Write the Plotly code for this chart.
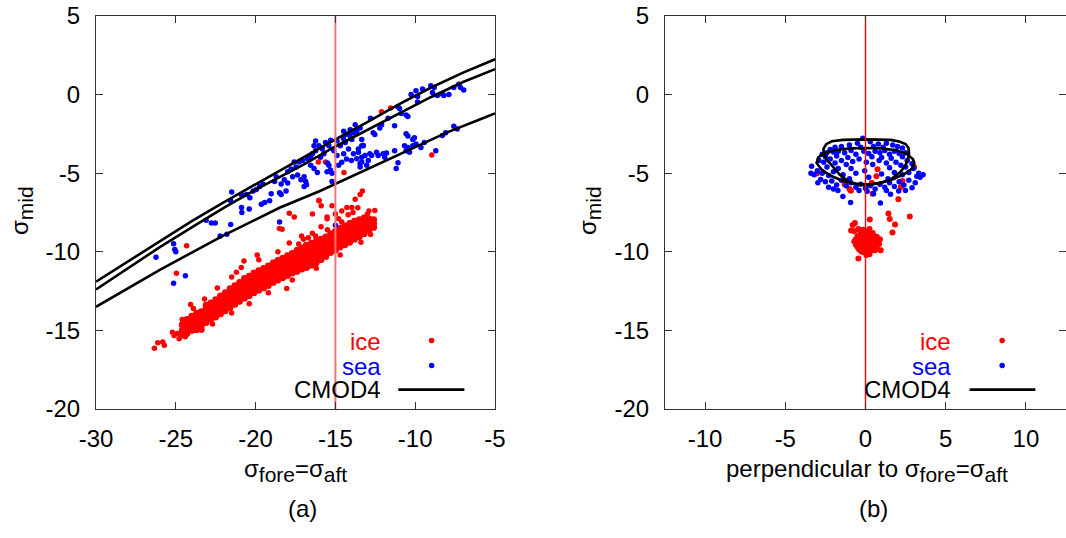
import plotly.graph_objects as go

# ---------------- data ----------------
# Panel (a): CMOD4 model curves, x = sigma_fore = sigma_aft, y = sigma_mid
cmod_x = [-30, -28, -26, -24, -22, -20, -18.7, -17, -15, -13, -11, -9, -7, -5]
cmod_upper = [-11.9, -10.6, -9.3, -8.05, -6.85, -5.7, -4.95, -4.0, -2.85, -1.75, -0.6, 0.45, 1.4, 2.25]
cmod_middle = [-12.4, -11.05, -9.7, -8.45, -7.2, -6.05, -5.35, -4.45, -3.3, -2.25, -1.2, -0.15, 0.8, 1.62]
cmod_lower_x = [-30, -28, -26, -24, -22, -20, -18.5, -16, -14, -12, -10, -8, -6, -5]
cmod_lower = [-13.5, -12.3, -11.15, -10.05, -8.95, -7.95, -7.2, -6.15, -5.2, -4.25, -3.3, -2.4, -1.6, -1.2]

# Panel (a): ice – dense band, listed column by column
ice_band_x = [-24.6, -24.3, -24.0, -23.7, -23.4, -23.1, -22.8, -22.5, -22.2, -21.9,
              -21.6, -21.3, -21.0, -20.7, -20.4, -20.1, -19.8, -19.5, -19.2, -18.9,
              -18.6, -18.3, -18.0, -17.7, -17.4, -17.1, -16.8, -16.5, -16.2, -15.9,
              -15.6, -15.3, -15.0, -14.7, -14.4, -14.1, -13.8, -13.5, -13.2, -12.9, -12.6]
ice_band_y = [
    [-15.3, -15.0, -14.65],
    [-15.2, -14.9, -14.6, -14.3],
    [-15.0, -14.7, -14.4, -14.1],
    [-14.85, -14.55, -14.25, -13.9],
    [-14.95, -14.7, -14.4, -14.1, -13.8],
    [-14.5, -14.2, -13.9, -13.6, -13.4],
    [-14.3, -14.0, -13.75, -13.45, -13.25],
    [-14.15, -13.85, -13.55, -13.3, -13.05],
    [-13.95, -13.65, -13.35, -13.05, -12.8],
    [-13.75, -13.45, -13.15, -12.85, -12.6],
    [-13.55, -13.25, -12.95, -12.65, -12.35],
    [-13.35, -13.05, -12.75, -12.45, -12.15],
    [-13.15, -12.85, -12.55, -12.25, -11.95],
    [-12.95, -12.6, -12.3, -12.0, -11.7],
    [-12.8, -12.45, -12.15, -11.85, -11.55],
    [-12.6, -12.25, -11.95, -11.65, -11.35],
    [-12.45, -12.1, -11.8, -11.5, -11.2],
    [-12.3, -11.95, -11.65, -11.35, -11.05],
    [-12.15, -11.8, -11.5, -11.2, -10.9],
    [-11.95, -11.6, -11.3, -11.0, -10.7],
    [-11.8, -11.45, -11.15, -10.85, -10.55],
    [-11.65, -11.3, -11.0, -10.7, -10.4],
    [-11.5, -11.15, -10.85, -10.55, -10.25],
    [-11.35, -11.0, -10.7, -10.4, -10.1],
    [-11.25, -10.9, -10.55, -10.2, -9.9],
    [-11.1, -10.75, -10.4, -10.05, -9.75],
    [-11.0, -10.65, -10.3, -9.95, -9.6],
    [-10.85, -10.5, -10.15, -9.8, -9.45],
    [-10.7, -10.35, -10.0, -9.65, -9.3],
    [-10.5, -10.2, -9.85, -9.5, -9.2],
    [-10.3, -9.95, -9.65, -9.35, -9.05],
    [-10.05, -9.75, -9.45, -9.15, -8.85],
    [-9.9, -9.6, -9.3, -9.0, -8.7],
    [-9.7, -9.4, -9.1, -8.8, -8.5],
    [-9.55, -9.25, -8.95, -8.65, -8.35],
    [-9.4, -9.1, -8.8, -8.5, -8.2],
    [-9.2, -8.9, -8.6, -8.3, -8.05],
    [-9.05, -8.75, -8.5, -8.2, -7.95],
    [-8.85, -8.6, -8.35, -8.1, -7.85],
    [-8.65, -8.4, -8.15, -7.9],
    [-8.45, -8.2, -7.95],
]
# Panel (a): ice – scattered points
ice_out_x = [-26.34, -26.13, -25.82, -25.72, -25.21, -25.1, -24.79, -24.9,
             -24.96, -24.32, -24.07, -20.73, -18.05, -18.51, -18.34, -17.89, -17.58,
             -16.03, -15.89, -16.44, -15.52, -15.21, -16.44, -16.24, -16.86, -17.89,
             -17.12, -13.31, -13.45, -13.76, -13.97, -14.28, -12.53, -12.11, -11.54,
             -13.25, -14.46, -15.62, -16.07, -8.96, -16.03, -15.52,
             -14.8, -14.2, -13.9, -13.6, -14.6, -15.9, -15.5, -16.7, -17.3, -19.8,
             -21.2, -22.4, -23.2, -23.9, -24.6, -22.7, -21.5, -20.4, -19.2, -17.7,
             -16.2, -14.7, -13.4, -12.8, -19.9, -20.9, -23.7, -24.4, -13.0, -12.9,
             -14.6, -15.0, -17.0, -18.6, -21.5]
ice_out_y = [-16.14, -15.79, -15.73, -15.94, -15.11, -15.32, -15.53, -15.2,
             -11.36, -9.61, -13.36, -10.58, -12.33, -8.52, -8.56, -7.55, -7.79,
             -6.72, -7.07, -7.59, -7.9, -7.07, -8.82, -8.99, -9.55, -9.44,
             -8.99, -6.14, -6.35, -6.66, -7.18, -7.18, -7.38, -1.09, -0.85,
             -3.22, -4.95, -4.29, -4.29, -3.84, -6.76, -7.79,
             -7.9, -7.65, -7.5, -7.2, -8.1, -8.4, -8.6, -9.1, -9.5, -10.5,
             -11.3, -12.3, -13.0, -13.6, -14.3, -14.6, -13.9, -13.3, -12.6, -11.8,
             -11.05, -10.2, -9.4, -8.9, -10.2, -11.0, -15.0, -15.4, -7.6, -7.4,
             -7.4, -7.6, -9.2, -10.0, -11.6]

# Panel (a): sea points
sea_a_x = [-26.24, -25.14, -25.06, -25.0, -25.14, -24.4, -23.1, -22.77, -22.53, -22.22,
           -21.8, -21.56, -21.5, -21.56, -20.88, -20.57, -20.36, -20.88, -20.86, -20.4,
           -20.15, -19.95, -19.74, -19.54, -19.64, -19.43, -19.12, -19.02, -18.71, -18.81,
           -18.5, -18.4, -18.09, -18.4, -18.2, -17.99, -17.99, -17.78, -17.58, -17.47,
           -17.68, -17.37, -17.16, -16.96, -16.86, -16.96, -16.81, -17.27, -17.06, -16.75,
           -16.55, -16.55, -16.34, -16.13, -16.03, -15.82, -15.62, -15.41, -15.72, -15.93,
           -16.24, -16.44, -15.5, -15.41, -15.31, -15.52, -15.21, -15.21, -15.0, -18.5,
           -15.1, -14.9, -14.69, -14.48, -14.38, -14.18, -13.97, -13.87, -13.66, -13.56,
           -13.35, -13.45, -13.76, -13.45, -13.66, -13.87, -13.35, -13.25, -13.56, -13.35,
           -12.63, -12.53, -12.22, -12.11, -12.84, -12.73, -12.42, -12.32, -12.01, -11.8,
           -11.91, -13.14, -12.94, -13.35, -13.45, -13.04, -11.29, -11.08, -11.08, -10.98,
           -10.88, -10.57, -10.46, -11.29, -10.57, -10.05, -10.15, -10.67, -10.46, -10.15,
           -9.95, -9.64, -9.43, -10.57, -10.36, -8.71, -10.26, -9.95, -9.85, -9.54,
           -9.02, -8.81, -8.92, -8.61, -8.3, -8.2, -7.89, -7.58, -7.27, -7.16,
           -6.96, -8.3, -8.09, -7.58, -7.37, -11.19, -10.46, -9.85, -14.0, -14.3,
           -14.6, -14.8, -14.1, -14.5, -14.9, -15.3, -12.8, -11.7, -14.48, -14.38,
           -14.07, -16.34, -16.24]
sea_a_y = [-10.35, -9.48, -9.86, -10.0, -12.0, -11.53, -8.0, -8.16, -8.16, -8.99,
           -8.89, -8.27, -6.19, -6.76, -6.39, -6.35, -6.56, -7.18, -7.5, -7.28,
           -6.14, -6.04, -5.84, -5.69, -6.97, -6.87, -6.76, -6.31, -5.22, -5.53,
           -6.25, -6.35, -6.14, -5.69, -5.42, -5.63, -4.91, -4.74, -4.29, -4.6,
           -5.22, -5.11, -5.42, -5.22, -5.53, -5.84, -5.73, -4.29, -4.19, -4.08,
           -3.98, -4.49, -4.7, -4.95, -3.26, -3.46, -3.05, -3.26, -3.77, -3.98,
           -3.57, -3.77, -4.35, -4.49, -4.8, -4.91, -5.01, -5.53, -8.31, -8.1,
           -3.57, -3.88, -3.26, -3.77, -3.05, -3.46, -2.85, -3.77, -4.08, -3.46,
           -3.26, -4.39, -1.92, -2.12, -2.33, -2.43, -2.85, -3.26, -3.67, -3.98,
           -2.43, -2.54, -2.12, -1.92, -3.77, -3.88, -3.67, -3.88, -3.77, -3.71,
           -3.98, -3.88, -4.19, -4.29, -4.6, -4.49, -3.57, -4.33, -0.78, -0.89,
           -1.2, -1.3, -1.4, -1.98, -2.49, -2.74, -2.85, -3.26, -3.36, -3.26,
           -3.15, -3.36, -3.05, -3.57, -3.67, -3.57, 0.0, 0.25, -0.12, 0.35,
           0.56, 0.45, 0.14, -0.06, 0.04, -0.06, 0.0, 0.45, 0.66, 0.45,
           0.29, -2.6, -2.43, -2.02, -2.19, -4.7, -2.64, -0.47, -4.2, -4.1,
           -4.3, -4.5, -2.6, -2.8, -2.95, -2.9, -1.5, -1.5, -2.33, -2.54,
           -2.23, -3.26, -2.95]

# Panel (b): CMOD4 loops in the perpendicular projection
loop1_x = [0, 0.8, 1.56, 2.1, 2.5, 2.68, 2.72, 2.65, 2.5, 2.2, 1.56, 0.8, 0, -0.93,
           -1.6, -2.1, -2.45, -2.6, -2.62, -2.45, -2.1, -1.4, -0.7, 0]
loop1_y = [-2.85, -2.85, -2.88, -2.98, -3.14, -3.4, -3.76, -4.1, -4.48, -4.9, -5.4, -5.65,
           -5.76, -5.62, -5.1, -4.5, -4.1, -3.75, -3.45, -3.15, -2.97, -2.88, -2.85, -2.85]
loop2_x = [0, 1.0, 2.0, 2.6, 2.95, 3.05, 2.9, 2.5, 1.8, 1.0, 0.2, -0.6, -1.4, -2.2,
           -2.75, -3.05, -2.95, -2.6, -2.0, -1.0, 0]
loop2_y = [-3.4, -3.42, -3.55, -3.8, -4.1, -4.35, -4.7, -5.0, -5.35, -5.6, -5.72, -5.68,
           -5.5, -5.15, -4.75, -4.35, -4.0, -3.75, -3.55, -3.42, -3.4]

# Panel (b): ice points
ice_b_x = [0, -0.2, 0.2, -0.4, 0.4, -0.1, 0.1, -0.3, 0.3, -0.5, 0.5, -0.2, 0.15, -0.05,
           0.35, -0.35, 0.6, -0.6, 0.0, -0.15, 0.25, -0.45, -0.7, -0.9, 0.7, 0.55, -0.25,
           0.1, -0.1, 0.3, -0.3, 0.45, -0.55, 0.2,
           0.8, 0.85, 0.7, 0.6, 0.5, 0.65, 0.4, -0.4, -0.5, -0.6, 0.9, -0.7, 0.05, 0.25,
           -0.15, 0.0, 0.2, -0.3,
           -0.44, 0.95, 0.27, -0.66, -0.8, 1.43, 1.51, 1.84, 1.68, 2.76, 2.05, 2.2, 0.75,
           0.68, -0.91, -3.03, 0.39, 0.44, 3.03, -1.3, 2.3, -1.0]
ice_b_y = [-9.3, -9.1, -9.2, -9.4, -9.5, -9.6, -8.95, -8.8, -8.85, -9.0, -9.1, -9.8, -9.85,
           -10.05, -9.7, -9.65, -9.3, -9.2, -8.7, -8.6, -8.55, -8.55, -8.7, -8.65, -9.05,
           -9.55, -10.0, -9.45, -9.2, -9.3, -9.3, -8.8, -9.45, -10.0,
           -9.3, -9.5, -9.7, -9.9, -9.75, -9.45, -9.9, -9.85, -9.7, -9.55, -9.2, -9.35,
           -10.2, -10.15, -9.4, -9.0, -9.65, -9.5,
           -10.42, -9.9, -7.94, -8.16, -8.3, -7.56, -7.92, -8.26, -8.77, -7.75, -6.65, -5.87,
           -4.75, -5.19, -6.12, -5.02, -5.61, -6.3, -4.6, -5.7, -5.5, -6.0]

# Panel (b): sea points
sea_b_x = [-0.17, 0.3, -0.5, 0.8, 1.3, 1.7, 2.0, -1.0, -1.5, -1.9, 1.1, 0.5, -0.3, -2.2, 2.3,
           -2.7, -2.4, -2.0, -1.7, -1.3, -0.9, -0.6, -0.1, 0.2, 0.6, 0.9, 1.2, 1.5, 1.8, 2.1,
           2.5, -2.5, -1.8, -1.1, 0.4, 1.0, 1.6, 2.3,
           -2.9, -2.6, -2.2, -1.9, -1.5, -1.2, -0.8, -0.4, 0.05, 0.45, 0.85, 1.3, 1.9, 2.2,
           2.6, 2.9, -2.4, -1.7, -0.9, 1.5, 2.5, -3.36, 3.0,
           -3.4, -3.2, -3.0, -2.7, -2.3, -2.0, -1.4, -0.6, -0.05, 0.2, 1.0, 1.8, 2.3, 2.7,
           3.2, 3.32, 3.59, 3.4,
           -2.97, -2.8, -2.5, -2.3, -2.1, -1.8, -1.5, -1.2, -0.9, -0.6, -0.3, 0.0, 0.3, 0.6,
           0.9, 1.2, 1.5, 1.8, 2.1, 2.4, 2.7, 2.9, 3.1, 1.4, -1.0,
           -1.72, -1.41, -0.93, -0.4, 0.1, 0.5, 0.93, 1.3, 1.56, 2.07, 2.49, -2.0]
sea_b_y = [-2.77, -3.0, -3.1, -3.15, -3.1, -3.2, -3.3, -3.2, -3.3, -3.35, -3.35, -3.3, -3.35,
           -3.5, -3.4,
           -3.8, -3.7, -3.65, -3.6, -3.7, -3.55, -3.8, -3.6, -3.75, -3.6, -3.7, -3.55, -3.8,
           -3.6, -3.75, -3.7, -3.95, -3.9, -4.0, -3.95, -4.0, -4.05, -3.95,
           -4.2, -4.3, -4.1, -4.35, -4.2, -4.45, -4.25, -4.1, -4.3, -4.45, -4.2, -4.35, -4.3,
           -4.5, -4.2, -4.4, -4.6, -4.7, -4.7, -4.65, -4.6, -4.55, -4.7,
           -5.0, -5.1, -4.85, -5.0, -5.15, -4.9, -5.1, -5.0, -4.85, -5.25, -5.05, -4.95, -5.1,
           -4.95, -5.2, -5.0, -5.1, -5.25,
           -5.6, -5.4, -5.55, -5.9, -5.5, -5.75, -5.45, -5.8, -5.6, -5.9, -5.7, -5.95, -5.8,
           -6.0, -5.7, -5.9, -5.6, -5.85, -5.55, -5.75, -5.45, -5.93, -5.6, -5.35, -5.35,
           -6.1, -6.49, -6.86, -6.1, -6.15, -6.3, -6.9, -6.1, -6.34, -6.14, -6.1, -6.0]

# tick labels (gnuplot uses a plain hyphen for the minus sign)
xticks_a = [-30, -25, -20, -15, -10, -5]
xticks_b = [-10, -5, 0, 5, 10]
yticks = [-20, -15, -10, -5, 0, 5]

# reference lines
vline_a = -15
vline_b = 0

# ---------------- figure ----------------
RED = "#ff0000"
BLUE = "#0000ff"
FONT = "Liberation Sans, Arial, sans-serif"
FS = 24
MS = 5.5

band_x = [x for x, ys in zip(ice_band_x, ice_band_y) for _ in ys]
band_y = [y for ys in ice_band_y for y in ys]

fig = go.Figure()

def pts(x, y, color, xa, ya, size=MS):
    fig.add_trace(go.Scatter(x=x, y=y, mode="markers", xaxis=xa, yaxis=ya,
                             marker=dict(color=color, size=size, line=dict(width=0)),
                             showlegend=False, hoverinfo="skip"))

def line(x, y, xa, ya, color="black", width=2.6):
    fig.add_trace(go.Scatter(x=x, y=y, mode="lines", xaxis=xa, yaxis=ya,
                             line=dict(color=color, width=width),
                             showlegend=False, hoverinfo="skip"))

# panel (a)
pts(band_x, band_y, RED, "x", "y", size=6.8)
pts(ice_out_x, ice_out_y, RED, "x", "y")
pts(sea_a_x, sea_a_y, BLUE, "x", "y")
line(cmod_x, cmod_upper, "x", "y")
line(cmod_x, cmod_middle, "x", "y")
line(cmod_lower_x, cmod_lower, "x", "y")
line([vline_a, vline_a], [-20, 5], "x", "y", color="#f07575", width=2)

# panel (b)
pts(ice_b_x, ice_b_y, RED, "x2", "y2", size=6)
pts(sea_b_x, sea_b_y, BLUE, "x2", "y2")
line(loop1_x, loop1_y, "x2", "y2")
line(loop2_x, loop2_y, "x2", "y2")
line([vline_b, vline_b], [-20, 5], "x2", "y2", color=RED, width=1.4)

# legends (gnuplot style: text right-aligned, sample to the right)
annotations = []
legend_a = dict(xa="x", ya="y", tx=-12.04, mx=-8.97, l0=-11.06, l1=-6.92)
legend_b = dict(xa="x2", ya="y2", tx=5.47, mx=8.52, l0=6.49, l1=10.59)
for lg in (legend_a, legend_b):
    for label, color, yy in (("ice", RED, -15.7), ("sea", BLUE, -17.28), ("CMOD4", "black", -18.77)):
        annotations.append(dict(x=lg["tx"], y=yy, xref=lg["xa"], yref=lg["ya"], text=label,
                                showarrow=False, xanchor="right", yanchor="middle",
                                font=dict(family=FONT, size=FS, color=color)))
    pts([lg["mx"]], [-15.65], RED, lg["xa"], lg["ya"])
    pts([lg["mx"]], [-17.23], BLUE, lg["xa"], lg["ya"])
    line([lg["l0"], lg["l1"]], [-18.77, -18.77], lg["xa"], lg["ya"], width=2.6)

W, H = 1066, 538
def px(xp):
    return xp / W
def py(yp):
    return 1 - yp / H

def sub(s):
    return '<sub><span style="font-size:21px">' + s + '</span></sub>'

tf = dict(family=FONT, size=FS, color="black")
annotations += [
    dict(x=px(295), y=py(470), xref="paper", yref="paper", showarrow=False,
         text="σ" + sub("fore") + "=σ" + sub("aft"), font=tf, xanchor="center", yanchor="middle"),
    dict(x=px(867), y=py(470), xref="paper", yref="paper", showarrow=False,
         text="perpendicular to σ" + sub("fore") + "=σ" + sub("aft"), font=tf,
         xanchor="center", yanchor="middle"),
    dict(x=px(21), y=py(211), xref="paper", yref="paper", showarrow=False,
         text="σ" + sub("mid"), font=tf, textangle=-90, xanchor="center", yanchor="middle"),
    dict(x=px(589), y=py(211), xref="paper", yref="paper", showarrow=False,
         text="σ" + sub("mid"), font=tf, textangle=-90, xanchor="center", yanchor="middle"),
    dict(x=px(302), y=py(508), xref="paper", yref="paper", showarrow=False,
         text="(a)", font=tf, xanchor="center", yanchor="middle"),
    dict(x=px(873), y=py(508), xref="paper", yref="paper", showarrow=False,
         text="(b)", font=tf, xanchor="center", yanchor="middle"),
]

axis_common = dict(showgrid=False, zeroline=False, showline=True, linecolor="#333333",
                   linewidth=1, mirror="ticks", ticks="inside", ticklen=7, tickwidth=1,
                   tickcolor="#333333", tickfont=dict(family=FONT, size=FS, color="black"),
                   automargin=False, tickmode="array")
ydom = [py(409), py(16)]
fig.update_layout(
    template="none",
    width=W, height=H, autosize=False,
    margin=dict(l=0, r=0, t=0, b=0, pad=0),
    paper_bgcolor="white", plot_bgcolor="white",
    showlegend=False,
    xaxis=dict(domain=[px(96), px(495)], range=[-30, -5], anchor="y",
               tickvals=xticks_a, ticktext=[str(v) for v in xticks_a],
               ticklabelstandoff=8, **axis_common),
    yaxis=dict(domain=ydom, range=[-20, 5], anchor="x",
               tickvals=yticks, ticktext=[str(v) for v in yticks],
               ticklabelstandoff=10, **axis_common),
    xaxis2=dict(domain=[px(665), 1.0], range=[-12.5, 12.5], anchor="y2",
                tickvals=xticks_b, ticktext=[str(v) for v in xticks_b],
                ticklabelstandoff=8, **axis_common),
    yaxis2=dict(domain=ydom, range=[-20, 5], anchor="x2",
                tickvals=yticks, ticktext=[str(v) for v in yticks],
                ticklabelstandoff=10, **axis_common),
    annotations=annotations,
)

fig.write_html("out.html")
